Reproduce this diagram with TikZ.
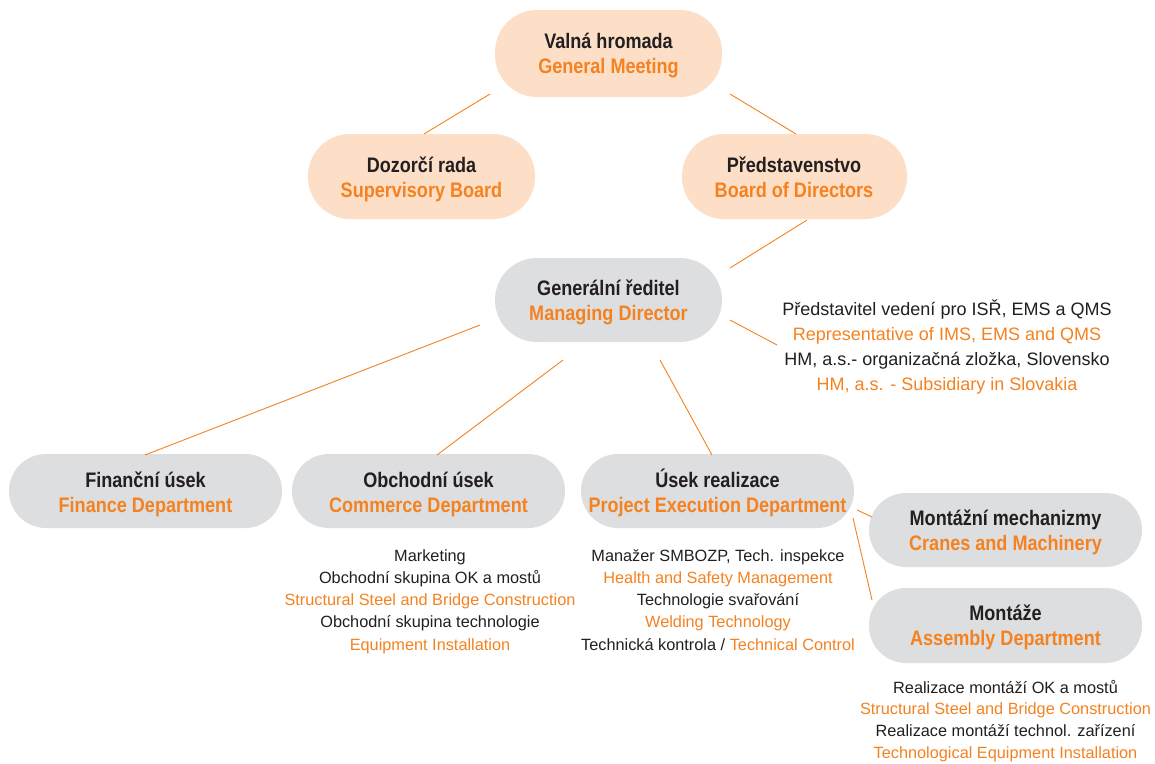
\documentclass[tikz,border=0pt]{standalone}
\usepackage{fontspec}
\setmainfont{Liberation Sans}
\newfontfamily\titlefam{Liberation Sans}[FakeStretch=0.86]
\definecolor{orgtxt}{HTML}{F58220}
\definecolor{darktxt}{HTML}{231F20}
\definecolor{peach}{HTML}{FDDFC8}
\definecolor{boxgray}{HTML}{DDDEE0}
\newcommand\twoline[2]{\begin{tabular}[t]{@{}c@{}}#1\\\textcolor{orgtxt}{#2}\end{tabular}}
\newcommand\stack[1]{\begin{tabular}[t]{@{}c@{}}#1\end{tabular}}
\begin{document}
\begin{tikzpicture}[x=1pt,y=-1pt,
  peachbox/.style={rectangle, draw=none, fill=peach, minimum width=227pt, minimum height=85pt, rounded corners=42pt, inner sep=0pt},
  graybox/.style={rectangle, draw=none, fill=boxgray, minimum width=273pt, minimum height=74pt, rounded corners=37pt, inner sep=0pt},
  biggraybox/.style={rectangle, draw=none, fill=boxgray, minimum width=227pt, minimum height=84pt, rounded corners=42pt, inner sep=0pt},
  title/.style={anchor=base, inner sep=0pt, text=darktxt, font=\titlefam\fontsize{21}{25}\selectfont\bfseries},
  reptxt/.style={anchor=base, inner sep=0pt, text=darktxt, font=\fontsize{18}{25}\selectfont},
  listtxt/.style={anchor=base, inner sep=0pt, text=darktxt, font=\fontsize{16.3}{#1}\selectfont},
  link/.style={draw=orgtxt, line width=0.9pt}]
\useasboundingbox[fill=white] (0,0) rectangle (1155,763);

% boxes
\node[peachbox, minimum height=87pt] (gm) at (608.5,53.5) {};
\node[peachbox] (sb) at (421.5,176.5) {};
\node[peachbox, minimum width=225pt] (bd) at (794.5,176.5) {};
\node[biggraybox] (md) at (608.5,300) {};
\node[graybox] (fin) at (145.5,491) {};
\node[graybox] (com) at (428.5,491) {};
\node[graybox] (exe) at (717.5,491) {};
\node[graybox] (cra) at (1005.5,530) {};
\node[graybox, minimum height=75pt] (asm) at (1005.5,625.5) {};

% box texts
\node[title] (gm-t)  at (608.5,48)  {\twoline{Valná hromada}{General Meeting}};
\node[title] (sb-t)  at (421.5,172) {\twoline{Dozorčí rada}{Supervisory Board}};
\node[title] (bd-t)  at (794,172)   {\twoline{Představenstvo}{Board of Directors}};
\node[title] (md-t)  at (608.5,295) {\twoline{Generální ředitel}{Managing Director}};
\node[title] (fin-t) at (145.5,487) {\twoline{Finanční úsek}{Finance Department}};
\node[title] (com-t) at (428.5,487) {\twoline{Obchodní úsek}{Commerce Department}};
\node[title] (exe-t) at (717.5,487) {\twoline{Úsek realizace}{Project Execution Department}};
\node[title] (cra-t) at (1005.5,525) {\twoline{Montážní mechanizmy}{Cranes and Machinery}};
\node[title] (asm-t) at (1005.5,620) {\twoline{Montáže}{Assembly Department}};

% free texts
\node[reptxt] (rep) at (947,315)
 {\stack{Představitel vedení pro ISŘ, EMS a QMS\\
  \textcolor{orgtxt}{Representative of IMS, EMS and QMS}\\
  HM, a.s.- organizačná zložka, Slovensko\\
  \textcolor{orgtxt}{HM, a.s. - Subsidiary in Slovakia}}};
\node[listtxt=22.3] (comlist) at (430,561)
 {\stack{Marketing\\
  Obchodní skupina OK a mostů\\
  \textcolor{orgtxt}{Structural Steel and Bridge Construction}\\
  Obchodní skupina technologie\\
  \textcolor{orgtxt}{Equipment Installation}}};
\node[listtxt=22.3] (exelist) at (718,561)
 {\stack{Manažer SMBOZP, Tech. inspekce\\
  \textcolor{orgtxt}{Health and Safety Management}\\
  Technologie svařování\\
  \textcolor{orgtxt}{Welding Technology}\\
  Technická kontrola / \textcolor{orgtxt}{Technical Control}}};
\node[listtxt=21.8] (asmlist) at (1005.5,693)
 {\stack{Realizace montáží OK a mostů\\
  \textcolor{orgtxt}{Structural Steel and Bridge Construction}\\
  Realizace montáží technol. zařízení\\
  \textcolor{orgtxt}{Technological Equipment Installation}}};

% connectors
\coordinate (gm-sb) at (490,94);   \coordinate (sb-gm) at (424,134);
\coordinate (gm-bd) at (730,94);   \coordinate (bd-gm) at (796,134);
\coordinate (bd-md) at (807,220);  \coordinate (md-bd) at (730,268);
\coordinate (md-rep) at (730,320); \coordinate (rep-md) at (777,345);
\coordinate (md-fin) at (480,325); \coordinate (fin-md) at (145,455);
\coordinate (md-com) at (563,360); \coordinate (com-md) at (437,455);
\coordinate (md-exe) at (660,360); \coordinate (exe-md) at (712,455);
\coordinate (exe-cra) at (857,510); \coordinate (cra-exe) at (872,517);
\coordinate (exe-asm) at (853,518); \coordinate (asm-exe) at (872,600);

\draw[link] (gm-sb) -- (sb-gm);
\draw[link] (gm-bd) -- (bd-gm);
\draw[link] (bd-md) -- (md-bd);
\draw[link] (md-rep) -- (rep-md);
\draw[link] (md-fin) -- (fin-md);
\draw[link] (md-com) -- (com-md);
\draw[link] (md-exe) -- (exe-md);
\draw[link] (exe-cra) -- (cra-exe);
\draw[link] (exe-asm) -- (asm-exe);
\end{tikzpicture}
\end{document}
